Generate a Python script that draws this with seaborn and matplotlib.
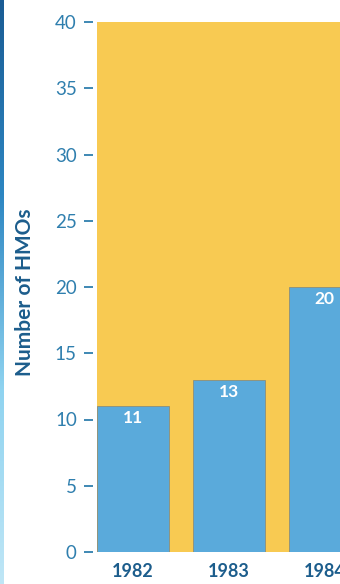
import numpy as np
import pandas as pd
import matplotlib
matplotlib.use("Agg")
import matplotlib.pyplot as plt
import seaborn as sns

# HMO counts by year
years = ["1982", "1983", "1984"]
hmo_counts = [11, 13, 20]
y_ticks = [0, 5, 10, 15, 20, 25, 30, 35, 40]

df = pd.DataFrame({"year": years, "count": hmo_counts})

sns.set_theme(style="white")
plt.rcParams["font.family"] = ["Lato", "DejaVu Sans"]

YELLOW = "#f8ca52"
BAR_BLUE = "#5aaadb"
TICK_BLUE = "#2f7fae"
DARK_BLUE = "#1c5d8c"

fig = plt.figure(figsize=(3.4, 5.84), dpi=100)
fig.patch.set_facecolor("white")

ax = fig.add_axes([97 / 340, 32 / 584, 243 / 340, 530 / 584])
ax.set_facecolor(YELLOW)

sns.barplot(data=df, x="year", y="count", ax=ax, color=BAR_BLUE,
            width=0.75, saturation=1, edgecolor="#8c8f7a", linewidth=0.6)

for i, v in enumerate(hmo_counts):
    ax.annotate(str(v), xy=(i, v), xytext=(0, -8.5), textcoords="offset points",
                ha="center", va="center", color="white",
                fontsize=12.5, fontweight="bold")

ax.set_xlim(-0.375, 2.16)
ax.set_ylim(0, 40)
ax.set_yticks(y_ticks)
ax.set_yticklabels([str(t) for t in y_ticks])

for side in ["top", "right", "bottom"]:
    ax.spines[side].set_visible(False)
ax.spines["left"].set_position(("outward", 3))
ax.spines["left"].set_visible(False)

ax.tick_params(axis="y", direction="out", length=6.5, width=1.3,
               color=TICK_BLUE, pad=5, labelsize=13.5, labelcolor=TICK_BLUE, left=True)
ax.tick_params(axis="x", length=0, pad=8, labelsize=13, labelcolor=DARK_BLUE)
for lab in ax.get_xticklabels():
    lab.set_fontweight("bold")

ax.set_xlabel("")
ax.set_ylabel("")
fig.text(25 / 340, 1 - 292 / 584, "Number of HMOs", rotation=90,
         ha="center", va="center", color=DARK_BLUE, fontsize=15, fontweight="bold")

# blue edge strip down the left margin
strip = fig.add_axes([0, 0, 4 / 340, 1])
grad = np.linspace(0, 1, 256).reshape(-1, 1)
cmap = matplotlib.colors.LinearSegmentedColormap.from_list(
    "edge", ["#1a5c94", "#2d86c2", "#8fd3f0", "#bfe6f6"])
strip.imshow(grad, aspect="auto", cmap=cmap, extent=[0, 1, 1, 0])
strip.axis("off")

fig.savefig("out.png", dpi=100)
